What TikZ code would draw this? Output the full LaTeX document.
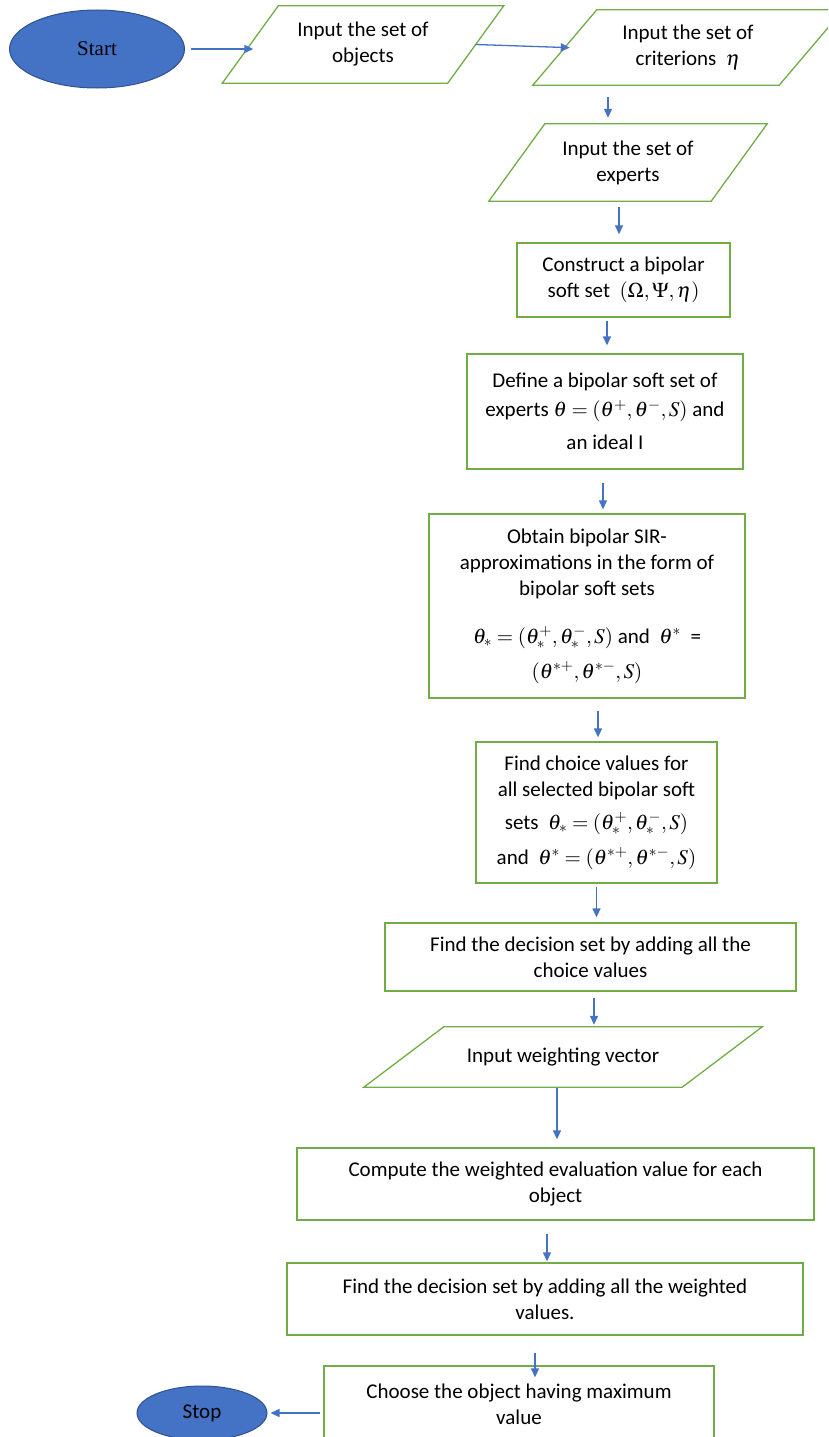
\documentclass[tikz,border=0pt]{standalone}
\usepackage{mathptmx}
\usepackage{fontspec}
\setmainfont{Carlito}
\newfontfamily\timesfont{Liberation Serif}
\usetikzlibrary{shapes.geometric,arrows.meta}
\definecolor{boxgreen}{HTML}{70AD47}
\definecolor{flowblue}{HTML}{4472C4}
\definecolor{rimblue}{HTML}{2F528F}
\tikzset{
  box/.style={draw=boxgreen, line width=1.3pt, align=center, inner sep=2pt},
  plain/.style={align=center, inner sep=2pt},
  para/.style={draw=boxgreen, line width=1.3pt},
  term/.style={ellipse, draw=rimblue, line width=1pt, fill=flowblue, inner sep=0pt},
  arr/.style={draw=flowblue, line width=1.3pt, -{Triangle[length=9pt,width=8pt]}}
}

\begin{document}
\begin{tikzpicture}[x=1pt, y=-1pt, font=\fontsize{21}{26}\selectfont]
\useasboundingbox (0,0) rectangle (828,1437);
\clip (0,0) rectangle (828,1437);
% start and the three inputs
\node [term, minimum width=175, minimum height=78] (start) at (97,49) {\timesfont Start};
\node [plain, minimum width=225, minimum height=77] (objects) at (363,44.5) {Input the set of\\objects};
\node [plain, minimum width=246, minimum height=75] (criteria) at (688,47.5) {Input the set of\\criterions \ $\eta$};
\node [plain, minimum width=222, minimum height=77] (experts) at (628,162.5) {Input the set of\\experts};
% process boxes
\node [box, minimum width=213, minimum height=74] (construct) at (623.5,280) {Construct a bipolar\\soft set \ $(\Omega,\Psi,\eta)$};
\node [box, minimum width=276, minimum height=115] (define) at (605,411.5) {Define a bipolar soft set of\\[3pt]experts $\theta=(\theta^{+},\theta^{-},S)$ and\\[7pt]an ideal I};
\node [box, minimum width=316, minimum height=184] (obtain) at (587,606) {Obtain bipolar SIR-\\approximations in the form of\\bipolar soft sets\\[22pt]$\theta_{*}=(\theta_{*}^{+},\theta_{*}^{-},S)$ and \ $\theta^{*}$ \ =\\[9pt]$(\theta^{*+},\theta^{*-},S)$};
\node [box, minimum width=241, minimum height=141] (choice) at (596.5,812.5) {Find choice values for\\all selected bipolar soft\\[7pt]sets \ $\theta_{*}=(\theta_{*}^{+},\theta_{*}^{-},S)$\\[9pt]and \ $\theta^{*}=(\theta^{*+},\theta^{*-},S)$};
\node [box, minimum width=411, minimum height=68] (decision) at (590.5,957) {Find the decision set by adding all the\\choice values};
\node [plain, minimum width=318, minimum height=60] (weights) at (563,1057) {Input weighting vector};
\node [box, minimum width=517, minimum height=72] (compute) at (555.5,1184) {Compute the weighted evaluation value for each\\object};
\node [box, minimum width=516, minimum height=72] (total) at (545,1299) {Find the decision set by adding all the weighted\\values.};
\node [box, minimum width=390, minimum height=76] (choose) at (519,1404) {Choose the object having maximum\\value};
\node [term, minimum width=130, minimum height=54] (stop) at (202,1413) {Stop};
% slanted input shapes
\foreach \n/\o in {objects/28, criteria/32, experts/28, weights/40}
  \draw [para] ([xshift=\o pt]\n.north west) -- ([xshift=\o pt]\n.north east) -- ([xshift=-\o pt]\n.south east) -- ([xshift=-\o pt]\n.south west) -- cycle;
% arrows
\draw [arr, shorten <=6pt, shorten >=-3pt] (start.east) -- (start.east -| objects.west);
\draw [arr, shorten >=-5pt] (objects.east) -- (criteria.west);
\draw [arr, shorten <=12pt, shorten >=6pt] ([xshift=-80pt]criteria.south) -- ([xshift=-20pt]experts.north);
\draw [arr, shorten <=6pt, shorten >=8pt] ([xshift=-9pt]experts.south) -- ([xshift=-4.5pt]construct.north);
\draw [arr, shorten <=3pt, shorten >=8pt] ([xshift=-16.5pt]construct.south) -- ([xshift=2pt]define.north);
\draw [arr, shorten <=13pt, shorten >=4pt] ([xshift=-2pt]define.south) -- ([xshift=16pt]obtain.north);
\draw [arr, shorten <=12pt, shorten >=4pt] ([xshift=11pt]obtain.south) -- ([xshift=1.5pt]choice.north);
\draw [arr, shorten <=3pt, shorten >=5pt] (choice.south) -- ([xshift=6pt]decision.north);
\draw [arr, shorten <=6pt, shorten >=2pt] ([xshift=3.5pt]decision.south) -- ([xshift=31pt]weights.north);
\draw [arr, shorten <=1pt, shorten >=8pt] ([xshift=-6pt]weights.south) -- ([xshift=1.5pt]compute.north);
\draw [arr, shorten <=13pt, shorten >=1pt] ([xshift=-8.5pt]compute.south) -- ([xshift=2pt]total.north);
\draw [arr, shorten <=17pt, shorten >=-12pt] ([xshift=-10pt]total.south) -- ([xshift=16pt]choose.north);
\draw [arr, shorten <=3pt, shorten >=3pt] (choose.west |- stop) -- (stop);
\end{tikzpicture}
\end{document}
